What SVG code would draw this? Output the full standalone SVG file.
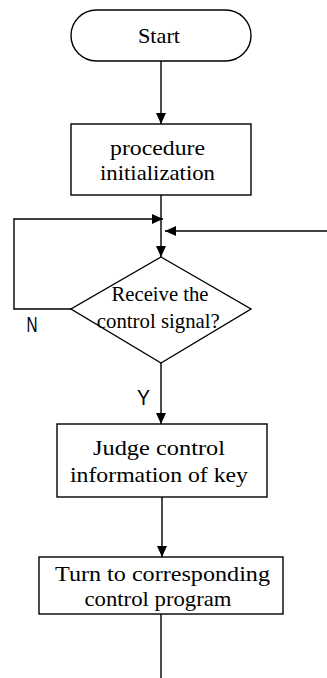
<svg xmlns="http://www.w3.org/2000/svg" width="327" height="678" viewBox="0 0 327 678">
<defs>
<style>
.shape{fill:#fff;stroke:#000;stroke-width:1.4}
.t{font-family:"Liberation Serif","Times New Roman",serif;font-size:22px;fill:#000;text-anchor:middle}
.lbl{font-family:"Liberation Sans",Arial,sans-serif;font-size:22px;fill:#000;text-anchor:middle}
.c{fill:none;stroke:#000;stroke-width:1.4}
</style>
<marker id="ah" markerUnits="userSpaceOnUse" markerWidth="12" markerHeight="10" refX="11" refY="5" orient="auto">
<path d="M0,0 L11,5 L0,10 Z" fill="#000"/>
</marker>
</defs>
<rect width="327" height="678" fill="#fff"/>
<g id="connectors">
<line class="c" x1="161" y1="61" x2="161" y2="124" marker-end="url(#ah)"/>
<line class="c" x1="161" y1="195" x2="161" y2="257" marker-end="url(#ah)"/>
<polyline class="c" points="71,309 14,309 14,219 163,219" marker-end="url(#ah)"/>
<line class="c" x1="327" y1="231" x2="165" y2="231" marker-end="url(#ah)"/>
<line class="c" x1="161" y1="363" x2="161" y2="424" marker-end="url(#ah)"/>
<line class="c" x1="162" y1="497" x2="162" y2="557" marker-end="url(#ah)"/>
<line class="c" x1="161" y1="614" x2="161" y2="678"/>
<text class="lbl" x="32" y="332" textLength="11" lengthAdjust="spacingAndGlyphs">N</text>
<text class="lbl" x="143.5" y="405" textLength="13" lengthAdjust="spacingAndGlyphs">Y</text>
</g>
<g id="start">
<rect class="shape" x="71" y="10" width="180" height="51" rx="25.5" ry="25.5"/>
<text class="t" x="159" y="43" textLength="42" lengthAdjust="spacingAndGlyphs">Start</text>
</g>
<g id="init">
<rect class="shape" x="71" y="124" width="180" height="71"/>
<text class="t" x="157.5" y="155" textLength="95" lengthAdjust="spacingAndGlyphs">procedure</text>
<text class="t" x="157.5" y="180" textLength="115" lengthAdjust="spacingAndGlyphs">initialization</text>
</g>
<g id="decision">
<polygon class="shape" points="161,257 251,309 161,363 71,309"/>
<text class="t" x="160" y="301" textLength="97" lengthAdjust="spacingAndGlyphs">Receive the</text>
<text class="t" x="158.3" y="328" textLength="123" lengthAdjust="spacingAndGlyphs">control signal?</text>
</g>
<g id="judge">
<rect class="shape" x="57" y="424" width="210" height="73"/>
<text class="t" x="159" y="455" textLength="132" lengthAdjust="spacingAndGlyphs">Judge control</text>
<text class="t" x="159" y="482" textLength="178" lengthAdjust="spacingAndGlyphs">information of key</text>
</g>
<g id="turn">
<rect class="shape" x="39" y="557" width="244" height="57"/>
<text class="t" x="162.5" y="581" textLength="215" lengthAdjust="spacingAndGlyphs">Turn to corresponding</text>
<text class="t" x="158" y="606" textLength="147" lengthAdjust="spacingAndGlyphs">control program</text>
</g>
</svg>
